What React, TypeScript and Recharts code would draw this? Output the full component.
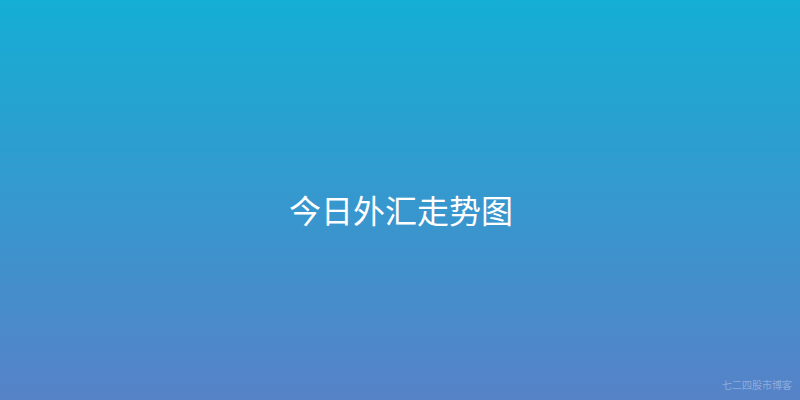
import React from "react";
import { ComposedChart, XAxis, YAxis, Customized, Line } from "recharts";

const categories: string[] = ["a", "b"];
const seriesValues: (number | null)[] = [null, null];
const titleLines: string[] = ["今日外汇走势图"];
const watermarkLines: string[] = ["七二四股市博客"];
const gradientStops: string[] = ["#14AED4", "#5782C8"];

const data = categories.map((c, i) => ({ name: c, v: seriesValues[i] }));

const Background = (props: any) => {
  const w = props.width ?? 800;
  const h = props.height ?? 400;
  return (
    <g>
      <defs>
        <linearGradient id="bgGrad" x1="0" y1="0" x2="0" y2="1">
          <stop offset="0%" stopColor={gradientStops[0]} />
          <stop offset="100%" stopColor={gradientStops[1]} />
        </linearGradient>
      </defs>
      <rect x={0} y={0} width={w} height={h} fill="url(#bgGrad)" />
      <text
        x={w / 2 + 1}
        y={209}
        textAnchor="middle"
        dominantBaseline="central"
        fill="#ffffff"
        fontSize={32}
        fontWeight={400}
        fontFamily="'Noto Sans CJK SC', sans-serif"
      >
        {titleLines[0]}
      </text>
      <text
        x={792}
        y={384}
        textAnchor="end"
        dominantBaseline="central"
        fill="#ffffff"
        fillOpacity={0.35}
        fontSize={10}
        fontFamily="'Noto Sans CJK SC', sans-serif"
      >
        {watermarkLines[0]}
      </text>
    </g>
  );
};

export default function App() {
  return (
    <div style={{ position: "absolute", left: 0, top: 0, width: 800, height: 400 }}>
      <ComposedChart width={800} height={400} data={data} margin={{ top: 0, right: 0, bottom: 0, left: 0 }}>
        <Customized component={Background} />
        <XAxis dataKey="name" hide />
        <YAxis hide domain={[0, 1]} />
        <Line dataKey="v" stroke="none" dot={false} isAnimationActive={false} />
      </ComposedChart>
    </div>
  );
}
